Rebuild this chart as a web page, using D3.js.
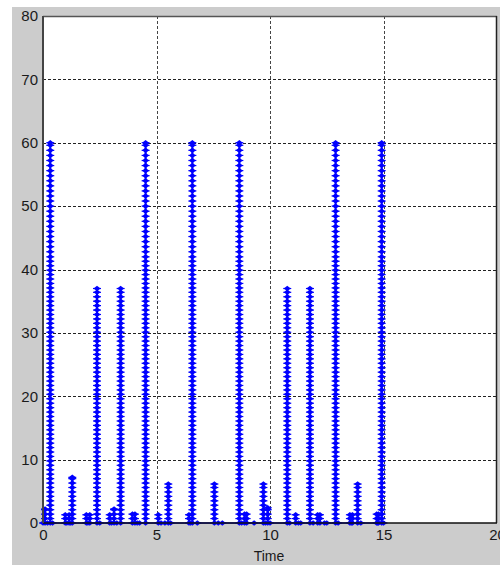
<!DOCTYPE html>
<html>
<head>
<meta charset="utf-8">
<script src="https://cdn.jsdelivr.net/npm/d3@7"></script>
<style>
  html, body { margin: 0; padding: 0; background: #ffffff; }
  svg { display: block; font-family: "Liberation Sans", Arial, sans-serif; }
</style>
</head>
<body>
<svg id="chart" width="500" height="565"></svg>
<script>
// Axis ranges and tick labels
const xTicks = [0, 5, 10, 15, 20];
const yTicks = [0, 10, 20, 30, 40, 50, 60, 70, 80];

// Main pulses: [time, peak value]
const pulseTimes  = [0.32, 2.38, 3.42, 4.52, 6.58, 8.65, 10.76, 11.76, 12.89, 14.92];
const pulsePeaks  = [60,   37,   37,   60,   60,   60,   37,    37,    60,    60];

// Secondary pulses
const smallTimes  = [1.29, 5.52, 7.55, 9.71, 13.86];
const smallPeaks  = [7.2,  6.15, 6.15, 6.15, 6.15];

// Short bursts near the baseline
const burstTimes  = [0.09, 0.98, 1.15, 1.91, 2.06, 2.94, 3.13, 3.94, 4.05, 5.08, 6.43, 8.88, 8.97, 9.9, 11.13, 12.1, 12.2, 13.52, 13.63, 14.7, 14.78];
const burstPeaks  = [2.2,  1.3,  1.3,  1.3,  1.3,  1.3,  2.2,  1.4,  1.4,  1.3,  1.3,  1.4,  1.4,  2.4, 1.3,   1.3,  1.3,  1.3,   1.3,   1.4,  1.4];

// Samples resting on zero
const zeroTimes   = [0.0, 0.2, 0.42, 1.05, 1.22, 1.98, 2.5, 3.02, 3.25, 4.15, 4.25, 5.2, 5.37, 5.62, 6.5, 6.8, 7.72, 7.9, 8.75, 9.3, 9.8, 10.0, 10.86, 11.25, 11.35, 11.9, 12.4, 12.5, 13.0, 13.58, 14.0, 14.74, 15.0];

// Sample levels recorded while a pulse is rising
const rampLevels = [0, 0.7, 1.4, 2.1, 2.8, 3.5, 4.2, 4.9, 5.6, 6.3, 7.0, 7.7, 8.4, 9.1, 9.8,
  10.5, 11.2, 11.9, 12.6, 13.3, 14.0, 14.7, 15.4, 16.1, 16.8, 17.5, 18.2, 18.9, 19.6, 20.3,
  21.0, 21.7, 22.4, 23.1, 23.8, 24.5, 25.2, 25.9, 26.6, 27.3, 28.0, 28.7, 29.4, 30.1, 30.8,
  31.5, 32.2, 32.9, 33.6, 34.3, 35.0, 35.7, 36.4, 37.1, 37.8, 38.5, 39.2, 39.9, 40.6, 41.3,
  42.0, 42.8, 43.6, 44.4, 45.2, 46.0, 46.8, 47.6, 48.4, 49.2, 50.0, 50.8, 51.6, 52.4, 53.2,
  54.0, 54.8, 55.6, 56.4, 57.2, 58.0, 58.8, 59.6];

const svg = d3.select("#chart");
const plot = { left: 43, top: 16, right: 497, bottom: 523 };

const x = d3.scaleLinear().domain([0, 20]).range([plot.left, plot.right]);
const y = d3.scaleLinear().domain([0, 80]).range([plot.bottom, plot.top]);

// Figure background
svg.append("rect").attr("x", 12).attr("y", 7).attr("width", 488).attr("height", 558).attr("fill", "#cccccc");
svg.append("rect").attr("x", plot.left).attr("y", plot.top)
  .attr("width", plot.right - plot.left).attr("height", plot.bottom - plot.top).attr("fill", "#ffffff");

// Grid
const grid = svg.append("g");
grid.selectAll("line.h").data(yTicks.slice(1, -1)).join("line")
  .attr("x1", plot.left).attr("x2", plot.right)
  .attr("y1", d => Math.round(y(d)) + 0.5).attr("y2", d => Math.round(y(d)) + 0.5)
  .attr("stroke", "#222").attr("stroke-width", 1).attr("stroke-dasharray", "3,2");
grid.selectAll("line.v").data(xTicks.slice(1, -1)).join("line")
  .attr("y1", plot.top).attr("y2", plot.bottom)
  .attr("x1", d => Math.round(x(d)) + 0.5).attr("x2", d => Math.round(x(d)) + 0.5)
  .attr("stroke", "#444").attr("stroke-width", 1).attr("stroke-dasharray", "3,2");

// Build the sampled signal
function pulse(t, peak) {
  const lv = rampLevels.filter(v => v < peak);
  lv.push(peak);
  return lv.map(v => ({ t, v }));
}
const events = [];
pulseTimes.forEach((t, i) => events.push({ t, peak: pulsePeaks[i] }));
smallTimes.forEach((t, i) => events.push({ t, peak: smallPeaks[i] }));
burstTimes.forEach((t, i) => events.push({ t, peak: burstPeaks[i] }));
zeroTimes.forEach(t => events.push({ t, peak: 0 }));
events.sort((a, b) => a.t - b.t);

const blue = "#0000ff";
const lineGen = d3.line().x(d => x(d.t)).y(d => y(d.v));
const sig = svg.append("g");

// baseline segment connecting the samples
sig.append("path").attr("d", lineGen([{ t: 0, v: 0 }, { t: 15, v: 0 }]))
  .attr("fill", "none").attr("stroke", blue).attr("stroke-width", 1.5);

const samples = [];
events.forEach(e => {
  const pts = e.peak > 0 ? pulse(e.t, e.peak) : [{ t: e.t, v: 0 }];
  if (pts.length > 1) {
    sig.append("path").attr("d", lineGen(pts))
      .attr("fill", "none").attr("stroke", blue).attr("stroke-width", 2);
  }
  pts.forEach(p => samples.push(p));
});

const marker = "M-3.5,0L0,-2.8L3.5,0L0,2.8Z";
sig.selectAll("g.m").data(samples).join("g")
  .attr("transform", d => `translate(${x(d.t)},${y(d.v)})`)
  .each(function () {
    const g = d3.select(this);
    g.append("path").attr("d", marker).attr("fill", blue);
    g.append("line").attr("x1", -4).attr("x2", 4).attr("y1", 0).attr("y2", 0)
      .attr("stroke", blue).attr("stroke-width", 1.2);
  });

// Plot frame
svg.append("line").attr("x1", plot.left).attr("x2", plot.right).attr("y1", plot.top + 0.5).attr("y2", plot.top + 0.5)
  .attr("stroke", "#555").attr("stroke-width", 1.5);
svg.append("line").attr("x1", plot.right - 0.5).attr("x2", plot.right - 0.5).attr("y1", plot.top).attr("y2", plot.bottom)
  .attr("stroke", "#222").attr("stroke-width", 1.5);
svg.append("line").attr("x1", plot.left).attr("x2", plot.right).attr("y1", plot.bottom).attr("y2", plot.bottom)
  .attr("stroke", "#111").attr("stroke-width", 1.5);
svg.append("line").attr("x1", plot.left).attr("x2", plot.left).attr("y1", plot.top).attr("y2", plot.bottom)
  .attr("stroke", "#444").attr("stroke-width", 2);

// Axes labels
const yAxis = d3.axisLeft(y).tickValues(yTicks).tickSize(0).tickPadding(5).tickFormat(d3.format("d"));
const gy = svg.append("g").attr("transform", `translate(${plot.left},0)`).call(yAxis);
gy.select(".domain").remove();
gy.selectAll("text").attr("font-size", 15).attr("fill", "#1a1a1a").attr("font-family", "'Liberation Sans', Arial, sans-serif");

const xAxis = d3.axisBottom(x).tickValues(xTicks).tickSize(0).tickPadding(6).tickFormat(d3.format("d"));
const gx = svg.append("g").attr("transform", `translate(0,${plot.bottom})`).call(xAxis);
gx.select(".domain").remove();
gx.selectAll("text").attr("font-size", 15).attr("fill", "#1a1a1a").attr("font-family", "'Liberation Sans', Arial, sans-serif");

svg.append("text").attr("x", 269).attr("y", 561).attr("text-anchor", "middle")
  .attr("font-size", 14).attr("fill", "#1a1a1a").text("Time");
</script>
</body>
</html>
